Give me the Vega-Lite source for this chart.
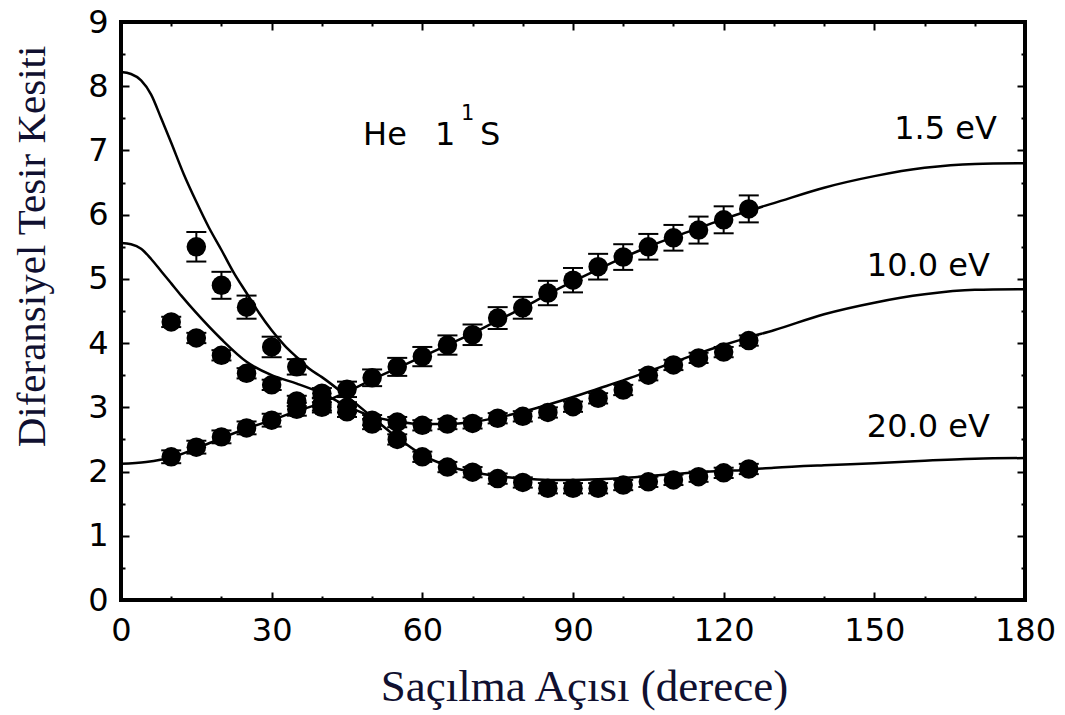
{
  "$schema": "https://vega.github.io/schema/vega-lite/v6.json",
  "width": 904,
  "height": 578,
  "autosize": "none",
  "padding": {"left": 121, "top": 22, "right": 40, "bottom": 115},
  "background": "white",
  "config": {
    "view": {"stroke": "black", "strokeWidth": 4},
    "axis": {"grid": false, "domain": false, "tickColor": "black", "tickWidth": 2, "labelColor": "black"}
  },
  "datasets": {
    "theory": [
      {"energy": "1.5 eV", "angle": 0, "dcs": 2.12}, {"energy": "1.5 eV", "angle": 5, "dcs": 2.15},
      {"energy": "1.5 eV", "angle": 10, "dcs": 2.22}, {"energy": "1.5 eV", "angle": 15, "dcs": 2.36},
      {"energy": "1.5 eV", "angle": 20, "dcs": 2.52}, {"energy": "1.5 eV", "angle": 25, "dcs": 2.67},
      {"energy": "1.5 eV", "angle": 30, "dcs": 2.80}, {"energy": "1.5 eV", "angle": 35, "dcs": 2.94},
      {"energy": "1.5 eV", "angle": 40, "dcs": 3.07}, {"energy": "1.5 eV", "angle": 45, "dcs": 3.24},
      {"energy": "1.5 eV", "angle": 50, "dcs": 3.43}, {"energy": "1.5 eV", "angle": 55, "dcs": 3.61},
      {"energy": "1.5 eV", "angle": 60, "dcs": 3.79}, {"energy": "1.5 eV", "angle": 65, "dcs": 3.97},
      {"energy": "1.5 eV", "angle": 70, "dcs": 4.15}, {"energy": "1.5 eV", "angle": 75, "dcs": 4.35},
      {"energy": "1.5 eV", "angle": 80, "dcs": 4.55}, {"energy": "1.5 eV", "angle": 85, "dcs": 4.76},
      {"energy": "1.5 eV", "angle": 90, "dcs": 4.96}, {"energy": "1.5 eV", "angle": 95, "dcs": 5.15},
      {"energy": "1.5 eV", "angle": 100, "dcs": 5.33}, {"energy": "1.5 eV", "angle": 105, "dcs": 5.50},
      {"energy": "1.5 eV", "angle": 110, "dcs": 5.65}, {"energy": "1.5 eV", "angle": 115, "dcs": 5.79},
      {"energy": "1.5 eV", "angle": 120, "dcs": 5.93}, {"energy": "1.5 eV", "angle": 125, "dcs": 6.06},
      {"energy": "1.5 eV", "angle": 130, "dcs": 6.18}, {"energy": "1.5 eV", "angle": 140, "dcs": 6.42},
      {"energy": "1.5 eV", "angle": 150, "dcs": 6.60}, {"energy": "1.5 eV", "angle": 160, "dcs": 6.73},
      {"energy": "1.5 eV", "angle": 170, "dcs": 6.79}, {"energy": "1.5 eV", "angle": 180, "dcs": 6.80},

      {"energy": "10.0 eV", "angle": 0, "dcs": 5.56}, {"energy": "10.0 eV", "angle": 2, "dcs": 5.54},
      {"energy": "10.0 eV", "angle": 4, "dcs": 5.47}, {"energy": "10.0 eV", "angle": 6, "dcs": 5.31},
      {"energy": "10.0 eV", "angle": 8, "dcs": 5.12}, {"energy": "10.0 eV", "angle": 10, "dcs": 4.93},
      {"energy": "10.0 eV", "angle": 12, "dcs": 4.74}, {"energy": "10.0 eV", "angle": 15, "dcs": 4.47},
      {"energy": "10.0 eV", "angle": 20, "dcs": 4.06}, {"energy": "10.0 eV", "angle": 25, "dcs": 3.71},
      {"energy": "10.0 eV", "angle": 30, "dcs": 3.50}, {"energy": "10.0 eV", "angle": 35, "dcs": 3.37},
      {"energy": "10.0 eV", "angle": 40, "dcs": 3.22}, {"energy": "10.0 eV", "angle": 45, "dcs": 3.02},
      {"energy": "10.0 eV", "angle": 50, "dcs": 2.86}, {"energy": "10.0 eV", "angle": 55, "dcs": 2.78},
      {"energy": "10.0 eV", "angle": 60, "dcs": 2.74}, {"energy": "10.0 eV", "angle": 65, "dcs": 2.74},
      {"energy": "10.0 eV", "angle": 70, "dcs": 2.77}, {"energy": "10.0 eV", "angle": 75, "dcs": 2.84},
      {"energy": "10.0 eV", "angle": 80, "dcs": 2.93}, {"energy": "10.0 eV", "angle": 85, "dcs": 3.04},
      {"energy": "10.0 eV", "angle": 90, "dcs": 3.16}, {"energy": "10.0 eV", "angle": 95, "dcs": 3.29},
      {"energy": "10.0 eV", "angle": 100, "dcs": 3.42}, {"energy": "10.0 eV", "angle": 105, "dcs": 3.56},
      {"energy": "10.0 eV", "angle": 110, "dcs": 3.70}, {"energy": "10.0 eV", "angle": 115, "dcs": 3.84},
      {"energy": "10.0 eV", "angle": 120, "dcs": 3.97}, {"energy": "10.0 eV", "angle": 125, "dcs": 4.09},
      {"energy": "10.0 eV", "angle": 130, "dcs": 4.20}, {"energy": "10.0 eV", "angle": 140, "dcs": 4.45},
      {"energy": "10.0 eV", "angle": 150, "dcs": 4.63}, {"energy": "10.0 eV", "angle": 160, "dcs": 4.76},
      {"energy": "10.0 eV", "angle": 170, "dcs": 4.83}, {"energy": "10.0 eV", "angle": 180, "dcs": 4.84},

      {"energy": "20.0 eV", "angle": 0, "dcs": 8.22}, {"energy": "20.0 eV", "angle": 2, "dcs": 8.19},
      {"energy": "20.0 eV", "angle": 4, "dcs": 8.09}, {"energy": "20.0 eV", "angle": 6, "dcs": 7.87},
      {"energy": "20.0 eV", "angle": 8, "dcs": 7.50}, {"energy": "20.0 eV", "angle": 10, "dcs": 7.12},
      {"energy": "20.0 eV", "angle": 12.5, "dcs": 6.63}, {"energy": "20.0 eV", "angle": 15, "dcs": 6.20},
      {"energy": "20.0 eV", "angle": 17.5, "dcs": 5.80}, {"energy": "20.0 eV", "angle": 20, "dcs": 5.45},
      {"energy": "20.0 eV", "angle": 22.5, "dcs": 5.09}, {"energy": "20.0 eV", "angle": 25, "dcs": 4.78},
      {"energy": "20.0 eV", "angle": 27.5, "dcs": 4.47}, {"energy": "20.0 eV", "angle": 30, "dcs": 4.20},
      {"energy": "20.0 eV", "angle": 32.5, "dcs": 3.97}, {"energy": "20.0 eV", "angle": 35, "dcs": 3.78},
      {"energy": "20.0 eV", "angle": 37.5, "dcs": 3.60}, {"energy": "20.0 eV", "angle": 40, "dcs": 3.47},
      {"energy": "20.0 eV", "angle": 45, "dcs": 3.17}, {"energy": "20.0 eV", "angle": 50, "dcs": 2.85},
      {"energy": "20.0 eV", "angle": 55, "dcs": 2.53}, {"energy": "20.0 eV", "angle": 60, "dcs": 2.26},
      {"energy": "20.0 eV", "angle": 65, "dcs": 2.09}, {"energy": "20.0 eV", "angle": 70, "dcs": 1.99},
      {"energy": "20.0 eV", "angle": 75, "dcs": 1.93}, {"energy": "20.0 eV", "angle": 80, "dcs": 1.89},
      {"energy": "20.0 eV", "angle": 85, "dcs": 1.87}, {"energy": "20.0 eV", "angle": 90, "dcs": 1.87},
      {"energy": "20.0 eV", "angle": 95, "dcs": 1.88}, {"energy": "20.0 eV", "angle": 100, "dcs": 1.90},
      {"energy": "20.0 eV", "angle": 105, "dcs": 1.93}, {"energy": "20.0 eV", "angle": 110, "dcs": 1.96},
      {"energy": "20.0 eV", "angle": 115, "dcs": 1.99}, {"energy": "20.0 eV", "angle": 120, "dcs": 2.01},
      {"energy": "20.0 eV", "angle": 125, "dcs": 2.03}, {"energy": "20.0 eV", "angle": 130, "dcs": 2.06},
      {"energy": "20.0 eV", "angle": 140, "dcs": 2.10}, {"energy": "20.0 eV", "angle": 150, "dcs": 2.13},
      {"energy": "20.0 eV", "angle": 160, "dcs": 2.17}, {"energy": "20.0 eV", "angle": 170, "dcs": 2.20},
      {"energy": "20.0 eV", "angle": 180, "dcs": 2.21}
    ],
    "measured": [
      {"energy": "1.5 eV", "angle": 10, "dcs": 2.23, "err": 0.1}, {"energy": "1.5 eV", "angle": 15, "dcs": 2.38, "err": 0.1},
      {"energy": "1.5 eV", "angle": 20, "dcs": 2.54, "err": 0.1}, {"energy": "1.5 eV", "angle": 25, "dcs": 2.68, "err": 0.1},
      {"energy": "1.5 eV", "angle": 30, "dcs": 2.80, "err": 0.1}, {"energy": "1.5 eV", "angle": 35, "dcs": 2.97, "err": 0.1},
      {"energy": "1.5 eV", "angle": 40, "dcs": 3.05, "err": 0.1}, {"energy": "1.5 eV", "angle": 45, "dcs": 3.28, "err": 0.12},
      {"energy": "1.5 eV", "angle": 50, "dcs": 3.46, "err": 0.13}, {"energy": "1.5 eV", "angle": 55, "dcs": 3.63, "err": 0.14},
      {"energy": "1.5 eV", "angle": 60, "dcs": 3.79, "err": 0.15}, {"energy": "1.5 eV", "angle": 65, "dcs": 3.97, "err": 0.15},
      {"energy": "1.5 eV", "angle": 70, "dcs": 4.13, "err": 0.16}, {"energy": "1.5 eV", "angle": 75, "dcs": 4.39, "err": 0.17},
      {"energy": "1.5 eV", "angle": 80, "dcs": 4.55, "err": 0.17}, {"energy": "1.5 eV", "angle": 85, "dcs": 4.78, "err": 0.19},
      {"energy": "1.5 eV", "angle": 90, "dcs": 4.98, "err": 0.19}, {"energy": "1.5 eV", "angle": 95, "dcs": 5.19, "err": 0.2},
      {"energy": "1.5 eV", "angle": 100, "dcs": 5.34, "err": 0.2}, {"energy": "1.5 eV", "angle": 105, "dcs": 5.50, "err": 0.2},
      {"energy": "1.5 eV", "angle": 110, "dcs": 5.64, "err": 0.2}, {"energy": "1.5 eV", "angle": 115, "dcs": 5.76, "err": 0.21},
      {"energy": "1.5 eV", "angle": 120, "dcs": 5.92, "err": 0.21}, {"energy": "1.5 eV", "angle": 125, "dcs": 6.09, "err": 0.21},

      {"energy": "10.0 eV", "angle": 10, "dcs": 4.33, "err": 0.08}, {"energy": "10.0 eV", "angle": 15, "dcs": 4.08, "err": 0.08},
      {"energy": "10.0 eV", "angle": 20, "dcs": 3.81, "err": 0.08}, {"energy": "10.0 eV", "angle": 25, "dcs": 3.53, "err": 0.08},
      {"energy": "10.0 eV", "angle": 30, "dcs": 3.35, "err": 0.08}, {"energy": "10.0 eV", "angle": 35, "dcs": 3.10, "err": 0.08},
      {"energy": "10.0 eV", "angle": 40, "dcs": 3.00, "err": 0.08}, {"energy": "10.0 eV", "angle": 45, "dcs": 2.93, "err": 0.08},
      {"energy": "10.0 eV", "angle": 50, "dcs": 2.80, "err": 0.08}, {"energy": "10.0 eV", "angle": 55, "dcs": 2.77, "err": 0.08},
      {"energy": "10.0 eV", "angle": 60, "dcs": 2.72, "err": 0.08}, {"energy": "10.0 eV", "angle": 65, "dcs": 2.74, "err": 0.08},
      {"energy": "10.0 eV", "angle": 70, "dcs": 2.75, "err": 0.08}, {"energy": "10.0 eV", "angle": 75, "dcs": 2.83, "err": 0.08},
      {"energy": "10.0 eV", "angle": 80, "dcs": 2.86, "err": 0.08}, {"energy": "10.0 eV", "angle": 85, "dcs": 2.92, "err": 0.08},
      {"energy": "10.0 eV", "angle": 90, "dcs": 3.01, "err": 0.08}, {"energy": "10.0 eV", "angle": 95, "dcs": 3.14, "err": 0.08},
      {"energy": "10.0 eV", "angle": 100, "dcs": 3.27, "err": 0.08}, {"energy": "10.0 eV", "angle": 105, "dcs": 3.50, "err": 0.08},
      {"energy": "10.0 eV", "angle": 110, "dcs": 3.66, "err": 0.08}, {"energy": "10.0 eV", "angle": 115, "dcs": 3.77, "err": 0.08},
      {"energy": "10.0 eV", "angle": 120, "dcs": 3.86, "err": 0.08}, {"energy": "10.0 eV", "angle": 125, "dcs": 4.04, "err": 0.08},

      {"energy": "20.0 eV", "angle": 15, "dcs": 5.50, "err": 0.23}, {"energy": "20.0 eV", "angle": 20, "dcs": 4.90, "err": 0.21},
      {"energy": "20.0 eV", "angle": 25, "dcs": 4.56, "err": 0.18}, {"energy": "20.0 eV", "angle": 30, "dcs": 3.94, "err": 0.16},
      {"energy": "20.0 eV", "angle": 35, "dcs": 3.63, "err": 0.12}, {"energy": "20.0 eV", "angle": 40, "dcs": 3.22, "err": 0.08},
      {"energy": "20.0 eV", "angle": 45, "dcs": 3.00, "err": 0.08}, {"energy": "20.0 eV", "angle": 50, "dcs": 2.74, "err": 0.08},
      {"energy": "20.0 eV", "angle": 55, "dcs": 2.50, "err": 0.08}, {"energy": "20.0 eV", "angle": 60, "dcs": 2.23, "err": 0.08},
      {"energy": "20.0 eV", "angle": 65, "dcs": 2.07, "err": 0.08}, {"energy": "20.0 eV", "angle": 70, "dcs": 1.99, "err": 0.08},
      {"energy": "20.0 eV", "angle": 75, "dcs": 1.89, "err": 0.08}, {"energy": "20.0 eV", "angle": 80, "dcs": 1.83, "err": 0.08},
      {"energy": "20.0 eV", "angle": 85, "dcs": 1.74, "err": 0.08}, {"energy": "20.0 eV", "angle": 90, "dcs": 1.74, "err": 0.08},
      {"energy": "20.0 eV", "angle": 95, "dcs": 1.74, "err": 0.08}, {"energy": "20.0 eV", "angle": 100, "dcs": 1.79, "err": 0.08},
      {"energy": "20.0 eV", "angle": 105, "dcs": 1.84, "err": 0.08}, {"energy": "20.0 eV", "angle": 110, "dcs": 1.87, "err": 0.08},
      {"energy": "20.0 eV", "angle": 115, "dcs": 1.92, "err": 0.08}, {"energy": "20.0 eV", "angle": 120, "dcs": 1.98, "err": 0.08},
      {"energy": "20.0 eV", "angle": 125, "dcs": 2.04, "err": 0.08}
    ],
    "state": [
      {"angle": 48.2, "dcs": 7.24, "label": "He"},
      {"angle": 62.5, "dcs": 7.24, "label": "1"},
      {"angle": 71.5, "dcs": 7.24, "label": "S"}
    ],
    "sup": [
      {"angle": 67.7, "dcs": 7.57, "label": "1"}
    ],
    "energies": [
      {"angle": 174.4, "dcs": 7.34, "label": "1.5 eV"},
      {"angle": 173.0, "dcs": 5.20, "label": "10.0 eV"},
      {"angle": 173.0, "dcs": 2.70, "label": "20.0 eV"}
    ]
  },
  "resolve": {
    "scale": {"x": "shared", "y": "shared"},
    "axis": {"x": "independent", "y": "independent"}
  },
  "layer": [
    {
      "data": {"name": "theory"},
      "mark": {"type": "line", "color": "black", "strokeWidth": 2.5, "interpolate": "monotone"},
      "encoding": {
        "x": {
          "field": "angle", "type": "quantitative",
          "scale": {"domain": [0, 180], "nice": false, "zero": false},
          "axis": {
            "orient": "bottom", "values": [0, 30, 60, 90, 120, 150, 180],
            "tickSize": -8, "labelPadding": 23,
            "labelFont": "DejaVu Sans", "labelFontSize": 32, "labelFlush": false, "labelOverlap": false,
            "title": "Saçılma Açısı (derece)", "titleFont": "Liberation Serif", "titleFontSize": 45,
            "titleFontWeight": "normal", "titleColor": "#101030",
            "titleX": 463, "titleY": 100, "titleBaseline": "alphabetic", "titleAlign": "center"
          }
        },
        "y": {
          "field": "dcs", "type": "quantitative",
          "scale": {"domain": [0, 9], "nice": false, "zero": false},
          "axis": {
            "orient": "left", "values": [0, 1, 2, 3, 4, 5, 6, 7, 8, 9],
            "tickSize": -8, "labelPadding": 21,
            "labelFont": "DejaVu Sans", "labelFontSize": 32, "labelFlush": false, "labelOverlap": false,
            "title": "Diferansiyel Tesir Kesiti", "titleFont": "Liberation Serif", "titleFontSize": 41,
            "titleFontWeight": "normal", "titleColor": "#101030",
            "titleAngle": -90, "titleX": -77, "titleY": 224, "titleBaseline": "alphabetic", "titleAlign": "center"
          }
        },
        "detail": {"field": "energy", "type": "nominal"}
      }
    },
    {
      "data": {"name": "measured"},
      "mark": {
        "type": "errorbar", "color": "black",
        "rule": {"strokeWidth": 2, "color": "black", "opacity": 1},
        "ticks": {"size": 20, "thickness": 2, "color": "black", "opacity": 1}
      },
      "encoding": {
        "x": {"field": "angle", "type": "quantitative", "scale": {"domain": [0, 180], "nice": false, "zero": false}, "axis": null},
        "y": {"field": "dcs", "type": "quantitative", "scale": {"domain": [0, 9], "nice": false, "zero": false}, "axis": null},
        "yError": {"field": "err"},
        "detail": {"field": "energy", "type": "nominal"}
      }
    },
    {
      "data": {"name": "measured"},
      "mark": {"type": "point", "shape": "circle", "filled": true, "color": "black", "opacity": 1, "size": 380},
      "encoding": {
        "x": {
          "field": "angle", "type": "quantitative",
          "scale": {"domain": [0, 180], "nice": false, "zero": false},
          "axis": {"orient": "top", "values": [0, 30, 60, 90, 120, 150, 180], "tickSize": -8, "labels": false, "title": null}
        },
        "y": {
          "field": "dcs", "type": "quantitative",
          "scale": {"domain": [0, 9], "nice": false, "zero": false},
          "axis": {"orient": "right", "values": [0, 1, 2, 3, 4, 5, 6, 7, 8, 9], "tickSize": -8, "labels": false, "title": null}
        },
        "detail": {"field": "energy", "type": "nominal"}
      }
    },
    {
      "data": {"name": "state"},
      "mark": {"type": "text", "font": "DejaVu Sans", "fontSize": 32, "align": "left", "baseline": "middle", "color": "black"},
      "encoding": {
        "x": {
          "field": "angle", "type": "quantitative",
          "scale": {"domain": [0, 180], "nice": false, "zero": false},
          "axis": {"orient": "top", "values": [10, 20, 40, 50, 70, 80, 100, 110, 130, 140, 160, 170], "tickSize": -4, "labels": false, "title": null}
        },
        "y": {
          "field": "dcs", "type": "quantitative",
          "scale": {"domain": [0, 9], "nice": false, "zero": false},
          "axis": {"orient": "right", "values": [0.5, 1.5, 2.5, 3.5, 4.5, 5.5, 6.5, 7.5, 8.5], "tickSize": -4, "labels": false, "title": null}
        },
        "text": {"field": "label"}
      }
    },
    {
      "data": {"name": "sup"},
      "mark": {"type": "text", "font": "DejaVu Sans", "fontSize": 21, "align": "left", "baseline": "middle", "color": "black"},
      "encoding": {
        "x": {
          "field": "angle", "type": "quantitative",
          "scale": {"domain": [0, 180], "nice": false, "zero": false},
          "axis": {"orient": "bottom", "values": [10, 20, 40, 50, 70, 80, 100, 110, 130, 140, 160, 170], "tickSize": -4, "labels": false, "title": null}
        },
        "y": {
          "field": "dcs", "type": "quantitative",
          "scale": {"domain": [0, 9], "nice": false, "zero": false},
          "axis": {"orient": "left", "values": [0.5, 1.5, 2.5, 3.5, 4.5, 5.5, 6.5, 7.5, 8.5], "tickSize": -4, "labels": false, "title": null}
        },
        "text": {"field": "label"}
      }
    },
    {
      "data": {"name": "energies"},
      "mark": {"type": "text", "font": "DejaVu Sans", "fontSize": 32, "align": "right", "baseline": "middle", "color": "black"},
      "encoding": {
        "x": {"field": "angle", "type": "quantitative", "scale": {"domain": [0, 180], "nice": false, "zero": false}, "axis": null},
        "y": {"field": "dcs", "type": "quantitative", "scale": {"domain": [0, 9], "nice": false, "zero": false}, "axis": null},
        "text": {"field": "label"}
      }
    }
  ]
}
